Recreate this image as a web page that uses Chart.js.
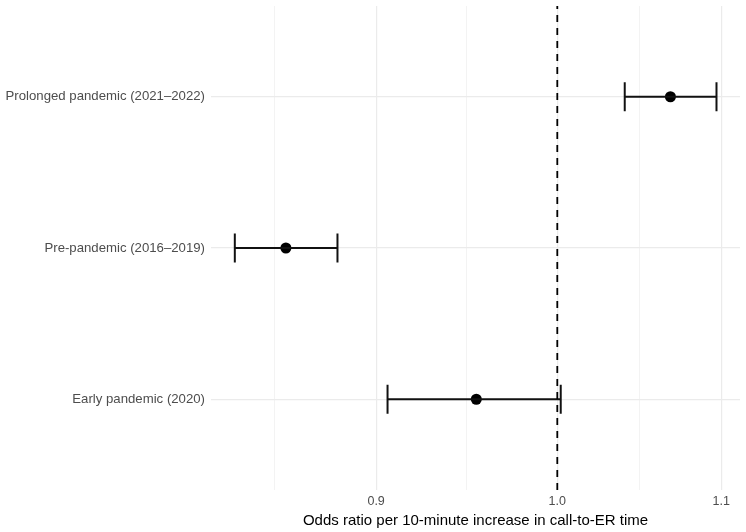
<!DOCTYPE html>
<html>
<head>
<meta charset="utf-8">
<script src="https://cdn.jsdelivr.net/npm/chart.js@4.4.1/dist/chart.umd.min.js"></script>
<style>
  html, body { margin: 0; padding: 0; background: #fff; }
  canvas { display: block; }
</style>
</head>
<body>
<canvas id="forestChart" width="746" height="532"></canvas>
<script>
// periods from bottom (y = 1) to top (y = 3)
const periods = ['Early pandemic (2020)', 'Pre-pandemic (2016\u20132019)', 'Prolonged pandemic (2021\u20132022)'];
const oddsRatio = [0.954, 0.854, 1.068];
const ciLower = [0.906, 0.829, 1.040];
const ciUpper = [1.002, 0.880, 1.097];

const xBreaks = [0.8, 0.9, 1.0, 1.1];
const refValue = 1.0;
const xMin = 0.8176;
const xMax = 1.1121;

// minor breaks sit half way between major breaks on the log scale
const minorBreaks = [];
for (let i = 0; i < xBreaks.length - 1; i++) {
    minorBreaks.push(Math.sqrt(xBreaks[i] * xBreaks[i + 1]));
}
const isMajor = v => xBreaks.some(b => Math.abs(b - v) < 1e-9);

const allTicks = xBreaks.concat(minorBreaks)
    .filter(v => v >= xMin && v <= xMax)
    .sort((a, b) => a - b);

Chart.defaults.font.family = '"Liberation Sans", Arial, sans-serif';

const noPad = scale => {
    scale.paddingTop = 0;
    scale.paddingBottom = 0;
    scale.paddingLeft = 0;
    scale.paddingRight = 0;
};

const datasets = [];

datasets.push({
    label: 'ref',
    data: [{x: refValue, y: 0.4}, {x: refValue, y: 3.6}],
    showLine: true,
    borderColor: '#000',
    borderWidth: 1.8,
    borderDash: [7, 6],
    pointRadius: 0
});

for (let i = 0; i < periods.length; i++) {
    datasets.push({
        label: periods[i] + ' CI',
        data: [{x: ciLower[i], y: i + 1}, {x: ciUpper[i], y: i + 1}],
        showLine: true,
        borderColor: '#111',
        borderWidth: 2,
        pointStyle: 'line',
        pointRotation: 90,
        pointRadius: 14.5,
        pointBorderWidth: 2,
        pointBorderColor: '#111'
    });
}

datasets.push({
    label: 'OR',
    data: oddsRatio.map((v, i) => ({x: v, y: i + 1})),
    pointRadius: 5.5,
    pointBackgroundColor: '#000',
    pointBorderColor: '#000',
    pointBorderWidth: 0
});

const chart = new Chart(document.getElementById('forestChart'), {
    type: 'scatter',
    data: { datasets: datasets },
    options: {
        responsive: false,
        animation: false,
        layout: { autoPadding: false, padding: { left: 0, right: 6, top: 6, bottom: 0 } },
        plugins: {
            legend: { display: false },
            tooltip: { enabled: false }
        },
        scales: {
            x: {
                type: 'logarithmic',
                min: xMin,
                max: xMax,
                afterBuildTicks: scale => {
                    scale.ticks = allTicks.map(v => ({value: v, major: isMajor(v)}));
                },
                afterFit: scale => { scale.height = 42; noPad(scale); },
                border: { display: false },
                grid: {
                    drawTicks: false,
                    color: ctx => (ctx.tick && isMajor(ctx.tick.value)) ? '#EBEBEB' : '#F3F3F3',
                    lineWidth: ctx => (ctx.tick && isMajor(ctx.tick.value)) ? 1.2 : 1
                },
                ticks: {
                    autoSkip: false,
                    maxRotation: 0,
                    padding: 4,
                    color: '#4D4D4D',
                    font: { size: 12.5 },
                    callback: v => isMajor(v) ? Number(v).toFixed(1) : ''
                },
                title: {
                    display: true,
                    text: 'Odds ratio per 10-minute increase in call-to-ER time',
                    color: '#000',
                    font: { size: 15 },
                    padding: { top: 0, bottom: 2 }
                }
            },
            y: {
                type: 'linear',
                min: 0.4,
                max: 3.6,
                afterBuildTicks: scale => {
                    scale.ticks = periods.map((p, i) => ({value: i + 1}));
                },
                afterFit: scale => { scale.width = 211; noPad(scale); },
                border: { display: false },
                grid: {
                    drawTicks: false,
                    color: '#EBEBEB',
                    lineWidth: 1.2
                },
                ticks: {
                    autoSkip: false,
                    padding: 6,
                    color: '#4D4D4D',
                    font: { size: 13.2 },
                    callback: v => periods[Math.round(v) - 1]
                }
            }
        }
    }
});
</script>
</body>
</html>
